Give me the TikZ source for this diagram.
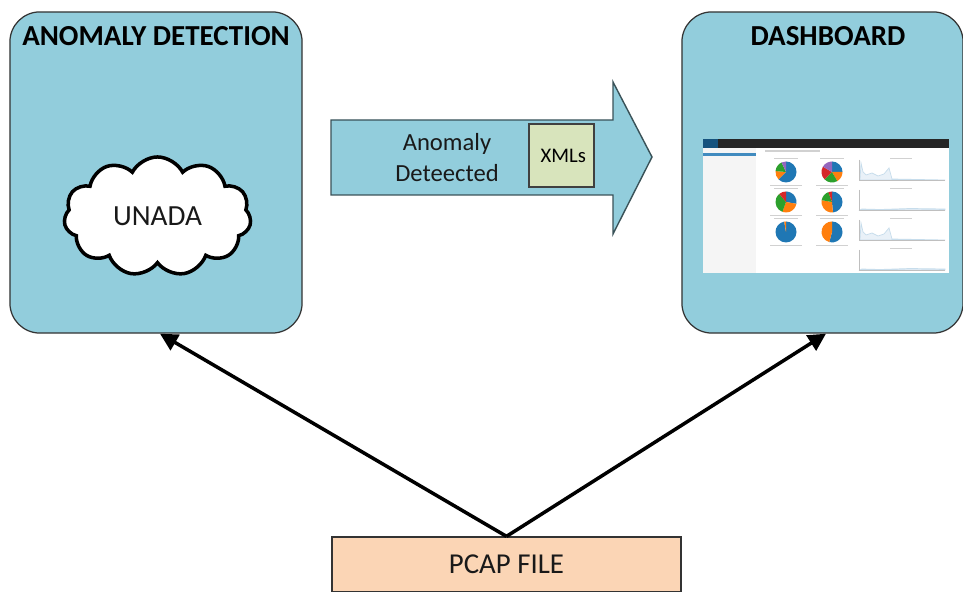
\documentclass[tikz,border=0pt]{standalone}
\usepackage{fontspec}
\setmainfont{Carlito}
\usetikzlibrary{shapes.symbols,arrows.meta}
\definecolor{boxblue}{HTML}{92CDDC}
\definecolor{xmlgreen}{HTML}{D8E4BC}
\definecolor{pcaporange}{HTML}{FBD5B5}
\definecolor{pieblue}{HTML}{1F77B4}
\definecolor{pieorange}{HTML}{FF7F0E}
\definecolor{piegreen}{HTML}{2CA02C}
\definecolor{piered}{HTML}{D62728}
\definecolor{piepurple}{HTML}{9467BD}
\tikzset{
  bigbox/.style={draw=black!80,fill=boxblue,line width=.35pt,rounded corners=.3cm,
    minimum height=3.21cm,inner sep=0pt},
  title/.style={font=\bfseries\fontsize{8.25}{10}\selectfont},
  word/.style={font=\fontsize{7}{8.8}\selectfont,text=black!90,align=center},
  minichart/.style={draw=pieblue!25,fill=pieblue!10,line width=.2pt},
  caption/.style={draw=none,fill=black!18}
}
% one pie of the dashboard: centre, then angle/angle/colour slices from the top
\newcommand{\dashpie}[3]{
  \foreach \a/\b/\c in {#3}
    \fill[\c] (#1,#2) -- ++({\a-90}:10.5) arc[start angle={\a-90},end angle={\b-90},radius=10.5] -- cycle;
  \fill[caption] ({#1-12},{#2-13.5}) rectangle ({#1+12},{#2-12.8});
  \fill[caption] ({#1-16},{#2+13}) rectangle ({#1+16},{#2+13.7});
}
\begin{document}
\begin{tikzpicture}[>={Stealth[length=5pt,width=5pt,inset=0pt]},x=.01cm,y=-.01cm]
  \useasboundingbox (0,0) rectangle (963,592);
  % boxes
  \node[bigbox,minimum width=2.92cm] (anomaly) at (156,172.5) {};
  \node[bigbox,minimum width=2.81cm] (dashboard) at (822.5,172.5) {};
  \node[title] (anomalytitle) at (156,36) {ANOMALY DETECTION};
  \node[title] (dashboardtitle) at (828,36) {DASHBOARD};
  \node[cloud,draw=black,fill=white,line width=1pt,cloud puffs=11,cloud puff arc=125,aspect=1.6,
    minimum width=1.87cm,minimum height=1.19cm,inner sep=0pt,font=\fontsize{8.3}{10}\selectfont,text=black!90] (unada) at (157.5,216.5) {UNADA};
  % big arrow
  \draw[draw=black!60!boxblue,fill=boxblue,line width=.4pt] (331,120) -- (613,120) -- (613,82)
    -- (652,157) -- (613,234) -- (613,195) -- (331,195) -- cycle;
  \node[word] (deteected) at (447,157.5) {Anomaly\\Deteected};
  \node[draw=black!75,fill=xmlgreen,line width=.5pt,minimum width=.65cm,minimum height=.63cm,inner sep=0pt,
    font=\fontsize{5.9}{8}\selectfont] (xmls) at (561.5,155.5) {\hspace*{1pt}XMLs};
  % dashboard screenshot
  \fill[white] (703,139) rectangle (949,273);
  \fill[black!85] (703,139) rectangle (949,148);
  \fill[pieblue!70!black] (703,139) rectangle (718,148);
  \fill[black!4] (703,148) rectangle (756,273);
  \fill[pieblue!85] (703,153) rectangle (756,156);
  \fill[caption] (765,150) rectangle (820,152);
  \dashpie{786}{172}{0/225/pieblue,225/275/pieorange,275/335/piegreen,335/360/piepurple}
  \dashpie{832}{172}{0/90/pieblue,90/150/pieorange,150/225/piegreen,225/300/piered,300/360/piepurple}
  \dashpie{786}{202}{0/100/pieblue,100/200/pieorange,200/320/piegreen,320/360/piered}
  \dashpie{832}{202}{0/175/pieblue,175/280/pieorange,280/340/piegreen,340/360/piered}
  \dashpie{786}{232}{0/350/pieblue,350/360/pieorange}
  \dashpie{832}{232}{0/195/pieblue,195/360/pieorange}
  % charts
  \foreach \y in {180,240}{
    \draw[minichart] (860,\y) -- (861,{\y-17}) -- (863,{\y-8}) -- (866,{\y-5}) -- (872,{\y-7}) -- (878,{\y-4})
      -- (884,{\y-6}) -- (889,{\y-12}) -- (892,{\y-1}) -- (945,\y) -- cycle;
    \draw[black!25,line width=.2pt] (859,{\y-20}) -- (859,\y) -- (945,\y);
    \fill[caption] (890,{\y-22}) rectangle (912,{\y-21.3});
  }
  \foreach \y in {210,270}{
    \draw[minichart] (860,\y) -- (862,{\y-1}) -- (880,{\y-.5}) -- (910,{\y-1.5}) -- (945,{\y-1}) -- (945,\y) -- cycle;
    \draw[black!25,line width=.2pt] (859,{\y-20}) -- (859,\y) -- (945,\y);
    \fill[caption] (890,{\y-22}) rectangle (912,{\y-21.3});
  }
  % pcap
  \node[draw=black!80,fill=pcaporange,line width=.35pt,minimum width=3.49cm,minimum height=.55cm,inner sep=0pt,
    font=\fontsize{8.2}{10}\selectfont,text=black!90] (pcap) at (506.5,564.5) {PCAP FILE};
  \draw[->,line width=1pt] (pcap.north) -- ([xshift=.04cm]anomaly.south);
  \draw[->,line width=1pt] (pcap.north) -- ([xshift=.035cm]dashboard.south);
\end{tikzpicture}
\end{document}
